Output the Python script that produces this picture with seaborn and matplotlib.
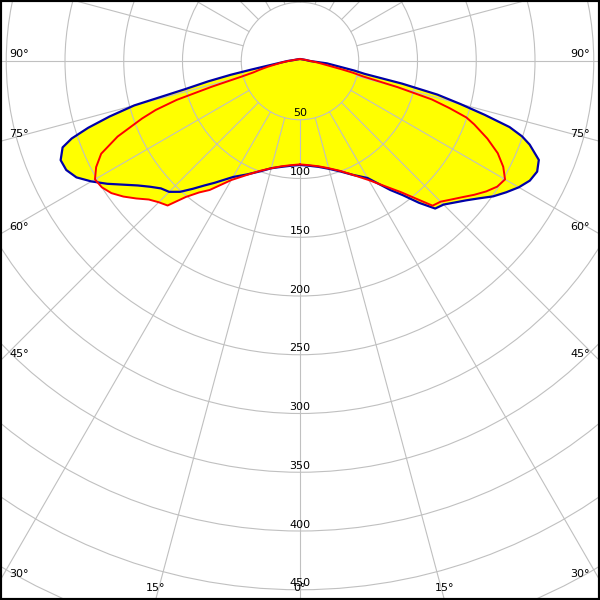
import numpy as np
import pandas as pd
import matplotlib
matplotlib.use("Agg")
import matplotlib.pyplot as plt
from matplotlib.patches import Circle
import seaborn as sns

# polar intensity diagram, gamma angle measured from straight down (cd)
angles = [0, 5, 10, 15, 20, 25, 30, 35, 37.5, 40, 42.5, 45, 47.5, 50, 52.5,
          55, 57.5, 60, 62.5, 65, 67.5, 70, 71.25, 72.5, 73.75, 75, 76.25, 77.5, 78.75,
          80, 85, 90, 100, 120, 150, 180]

# blue plane, right half / left half
c0 = [88.5, 89.5, 91.5, 95, 100, 107, 115, 134, 144, 157.5, 170.3, 172.8, 178.3, 184.5, 192,
      200.8, 208, 215, 220.5, 222.7, 220, 208, 199.6, 187, 163.7, 141, 120.5, 89, 56,
      47, 23, 8.5, 5, 2.7, 1.8, 1.7]
c180 = [88.5, 89.5, 91.5, 94.5, 100, 106.5, 114, 126.5, 133.5, 142, 151, 157.5, 160.5, 166.5, 174,
        183.5, 194.5, 205, 214.5, 219.5, 220.5, 215, 205.2, 189, 168.8, 146, 100.2, 80, 60,
        42, 17, 10.5, 5, 2.7, 1.8, 1.7]
# red plane, right half / left half
c90 = [88, 89, 91, 94.5, 99.5, 107, 117, 131.5, 140.5, 152.5, 167, 169.3, 174.5, 180.3, 187,
       193.5, 199, 201.5, 195, 185.7, 172.6, 157.8, 149.6, 133.5, 116.8, 86, 55.3, 46, 36,
       28, 15, 9, 5, 2.7, 1.8, 1.7]
c270 = [88, 89, 91, 94.5, 99.5, 107, 117, 134, 141, 151, 166.8, 170, 174.5, 182, 189.5,
        196, 200, 201.5, 195.6, 186.7, 168, 143, 129.7, 110, 78.1, 52, 40.8, 36, 31.5,
        27.5, 16, 10, 5, 2.7, 1.8, 1.7]

ring_values = [50, 100, 150, 200, 250, 300, 350, 400, 450]
side_angles = [30, 45, 60, 75, 90]
bottom_angles = [15, 0]

PX = 1.175          # pixels per cd
W = 300 / PX        # half width in cd
YTOP = 61 / PX
YBOT = -539 / PX

GRID = "#c0c0c0"
BLUE = "#0000a8"
RED = "#ff0000"
FILL = "#ffff00"


def outline(right, left):
    """closed x/y outline from the two half planes"""
    a = np.radians(angles)
    r1 = np.array(right)
    r2 = np.array(left)
    x = np.concatenate([r1 * np.sin(a), -(r2 * np.sin(a))[::-1]])
    y = np.concatenate([-r1 * np.cos(a), -(r2 * np.cos(a))[::-1]])
    x = np.append(x, x[0])
    y = np.append(y, y[0])
    return pd.DataFrame({"x": x, "y": y})


sns.set_style("white")
plt.rcParams["font.family"] = ["DejaVu Sans"]
plt.rcParams["text.color"] = "black"

fig = plt.figure(figsize=(6, 6), dpi=100)
ax = fig.add_axes([0, 0, 1, 1])
ax.set_xlim(-W, W)
ax.set_ylim(YBOT, YTOP)
ax.set_aspect("equal")
ax.set_xticks([])
ax.set_yticks([])
for sp in ax.spines.values():
    sp.set_color("black")
    sp.set_linewidth(3)

blue = outline(c0, c180)
red = outline(c90, c270)

ax.fill(blue["x"], blue["y"], color=FILL, lw=0, zorder=1)
ax.fill(red["x"], red["y"], color=FILL, lw=0, zorder=1)

# grid: rings and 15 degree spokes starting at the first ring
for r in range(50, 601, 50):
    ax.add_patch(Circle((0, 0), r, fill=False, ec=GRID, lw=0.8, zorder=2))
for a in range(0, 360, 15):
    t = np.radians(a)
    ax.plot([50 * np.sin(t), 700 * np.sin(t)], [-50 * np.cos(t), -700 * np.cos(t)],
            color=GRID, lw=0.8, zorder=2)

sns.lineplot(data=blue, x="x", y="y", sort=False, estimator=None,
             color=BLUE, lw=1.6, ax=ax, zorder=3)
sns.lineplot(data=red, x="x", y="y", sort=False, estimator=None,
             color=RED, lw=1.4, ax=ax, zorder=4)
ax.set_xlabel("")
ax.set_ylabel("")

# labels
for r in ring_values:
    ax.text(0, -(r - 5.5), str(r), ha="center", va="center", fontsize=8,
            color="black", zorder=5)

for a in side_angles:
    yy = -W / np.tan(np.radians(a)) + 7 / PX
    ax.text(-W + 9 / PX, yy, f"{a}°", ha="left", va="center", fontsize=8,
            color="black", zorder=5)
    ax.text(W - 10 / PX, yy, f"{a}°", ha="right", va="center", fontsize=8,
            color="black", zorder=5)

yb = -(588 - 61) / PX
for a in bottom_angles:
    xx = -YBOT * np.tan(np.radians(a))
    ax.text(-xx, yb, f"{a}°", ha="center", va="center", fontsize=8,
            color="black", zorder=5)
    if a:
        ax.text(xx, yb, f"{a}°", ha="center", va="center", fontsize=8,
                color="black", zorder=5)

fig.savefig("out.png", dpi=100)
